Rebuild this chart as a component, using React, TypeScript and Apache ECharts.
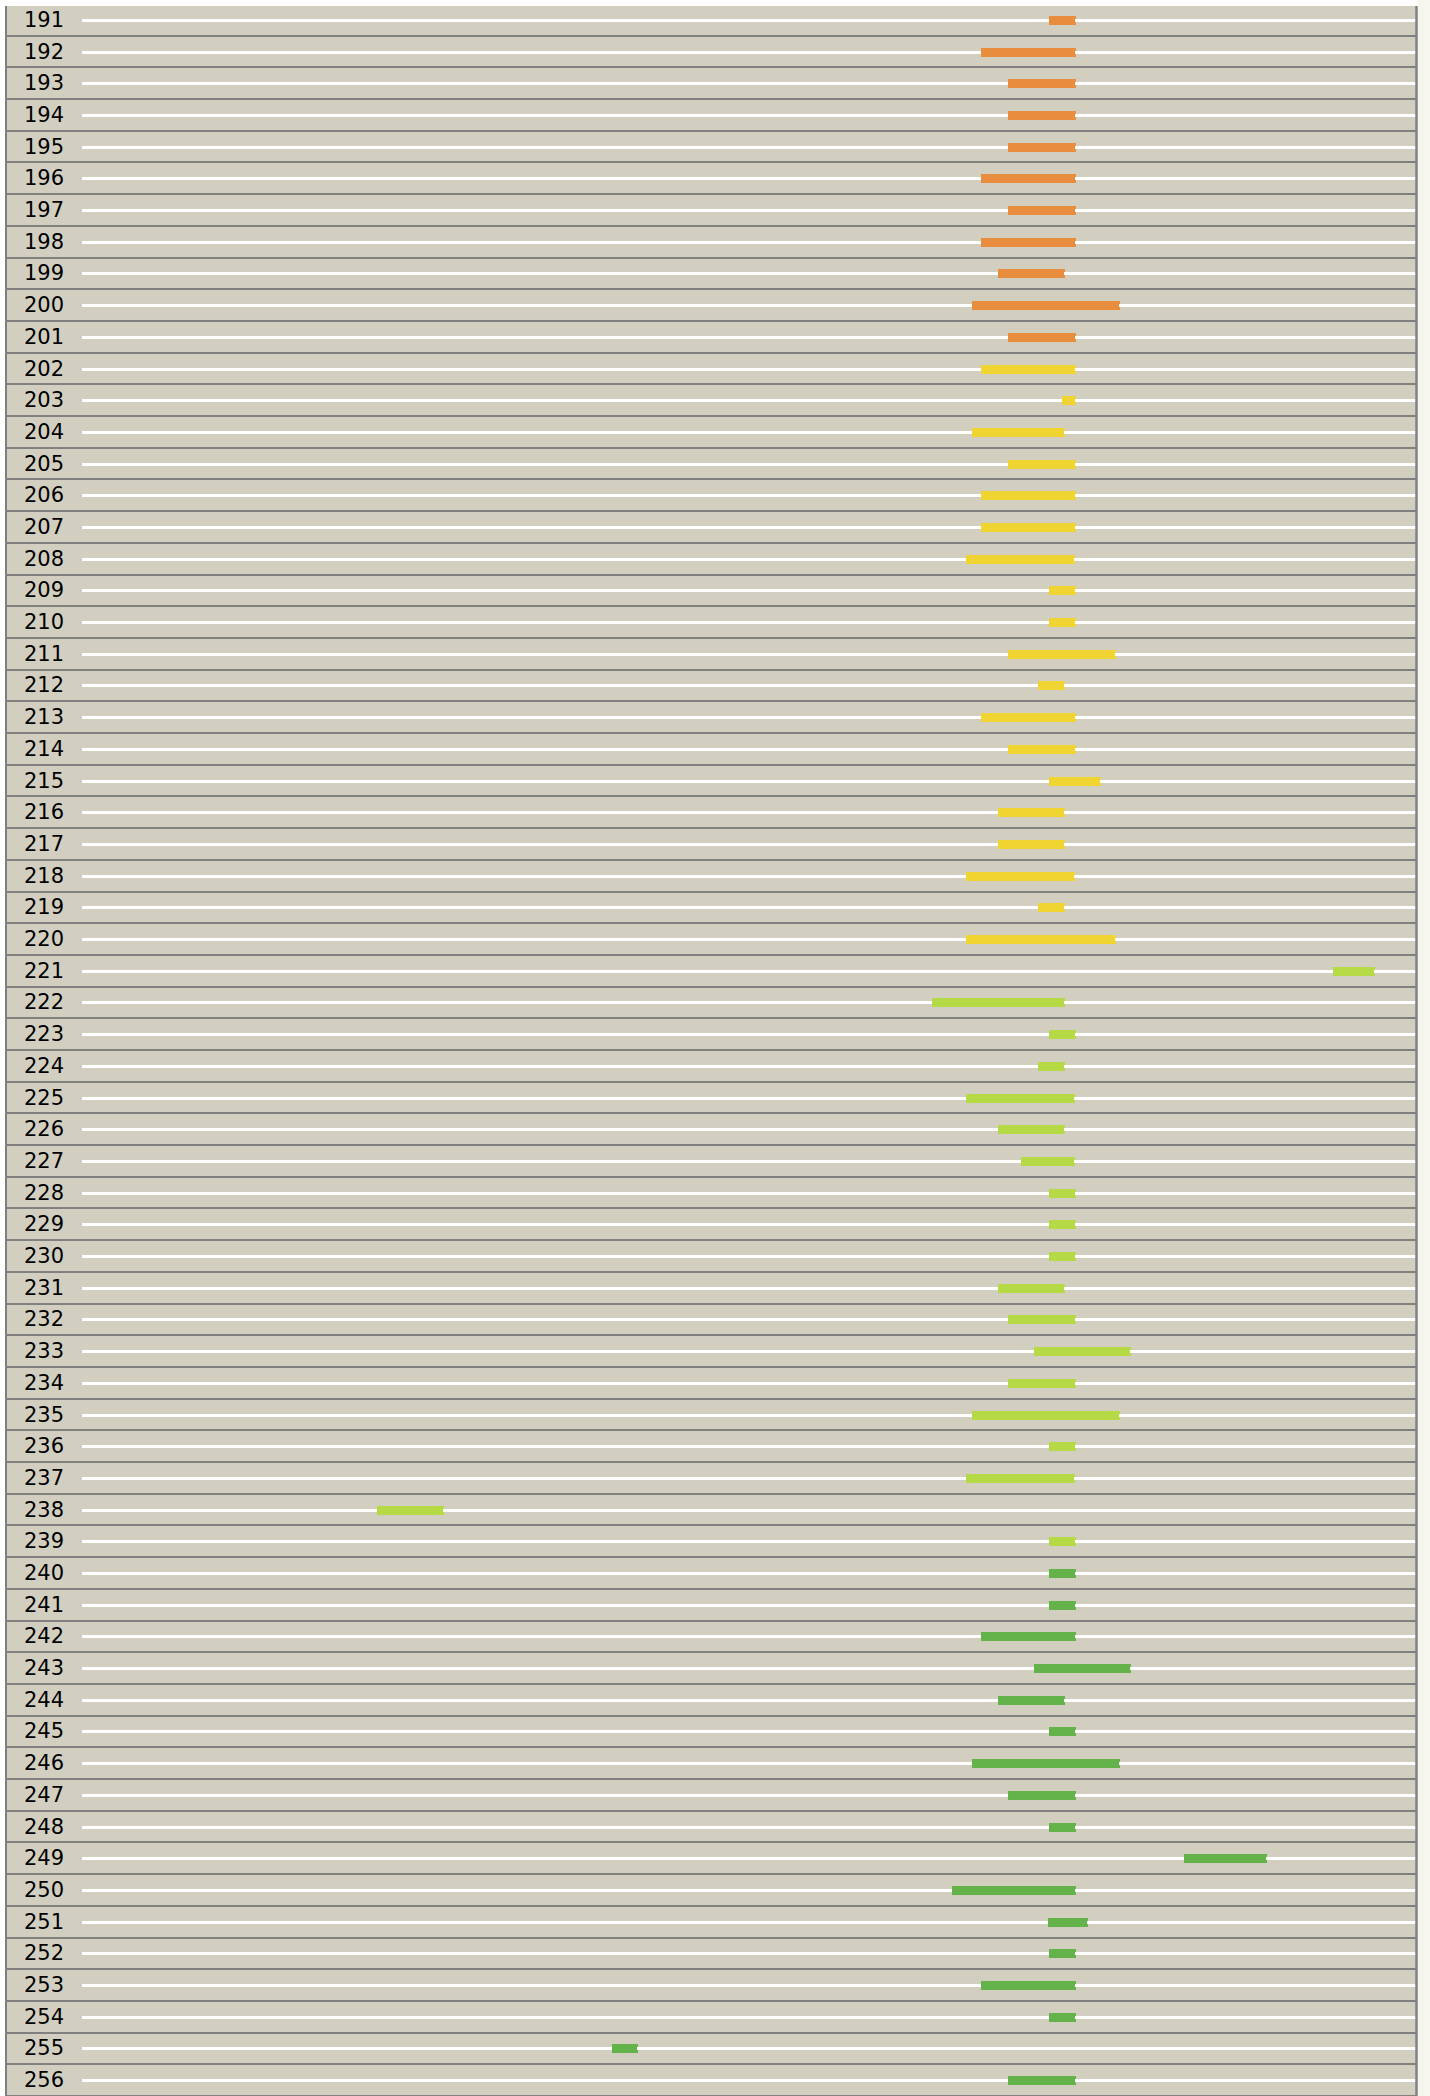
import React, { useEffect, useRef } from "react";
import * as echarts from "echarts";

const categories = [
  "191", "192", "193", "194", "195", "196", "197", "198", "199", "200", "201",
  "202", "203", "204", "205", "206", "207", "208", "209", "210", "211", "212", "213", "214", "215", "216", "217", "218", "219", "220",
  "221", "222", "223", "224", "225", "226", "227", "228", "229", "230", "231", "232", "233", "234", "235", "236", "237", "238", "239",
  "240", "241", "242", "243", "244", "245", "246", "247", "248", "249", "250", "251", "252", "253", "254", "255", "256",
];

const startValues = [
  725, 674, 694, 694, 694, 674, 694, 674, 687, 667, 694,
  674, 735, 667, 694, 674, 674, 663, 725, 725, 694, 717, 674, 694, 725, 687, 687, 663, 717, 663,
  938, 637, 725, 717, 663, 687, 704, 725, 725, 725, 687, 694, 714, 694, 667, 725, 663, 221, 725,
  725, 725, 674, 714, 687, 725, 667, 694, 725, 826, 652, 724, 725, 674, 725, 397, 694,
];

const endValues = [
  745, 745, 745, 745, 745, 745, 745, 745, 737, 778, 745,
  745, 745, 737, 745, 745, 745, 744, 745, 745, 775, 737, 745, 745, 764, 737, 737, 744, 737, 775,
  969, 737, 745, 737, 744, 737, 744, 745, 745, 745, 737, 745, 786, 745, 778, 745, 744, 271, 745,
  745, 745, 745, 786, 737, 745, 778, 745, 745, 888, 745, 754, 745, 745, 745, 417, 745,
];

const rowGroup = [
  0, 0, 0, 0, 0, 0, 0, 0, 0, 0, 0,
  1, 1, 1, 1, 1, 1, 1, 1, 1, 1, 1, 1, 1, 1, 1, 1, 1, 1, 1,
  2, 2, 2, 2, 2, 2, 2, 2, 2, 2, 2, 2, 2, 2, 2, 2, 2, 2, 2,
  3, 3, 3, 3, 3, 3, 3, 3, 3, 3, 3, 3, 3, 3, 3, 3, 3,
];

const groupColors = ["#e88d3d", "#f0d431", "#b5da46", "#63b34a"];
const lineStart = 0;
const xMin = -57;
const xMax = 1000;

export default function App() {
  const ref = useRef<HTMLDivElement>(null);

  useEffect(() => {
    document.body.style.margin = "0";
    if (!ref.current) return;
    const chart = echarts.init(ref.current, undefined, { renderer: "svg" });

    const rowsSeries: any = {
      type: "custom",
      z: 1,
      encode: { x: 0, y: 1 },
      data: categories.map((_, i) => [lineStart, i]),
      renderItem: (params: any, api: any) => {
        const cs = params.coordSys;
        const p = api.coord([api.value(0), api.value(1)]);
        const band = api.size([0, 1])[1];
        const right = cs.x + cs.width;
        const sepY = Math.round(p[1] + band / 2);
        const wy = Math.round(p[1]) + 0.5;
        return {
          type: "group",
          children: [
            {
              type: "line",
              shape: { x1: cs.x, y1: sepY, x2: right, y2: sepY },
              style: { stroke: "#808080", lineWidth: 2 },
            },
            {
              type: "line",
              shape: { x1: p[0], y1: wy, x2: right, y2: wy },
              style: { stroke: "#ffffff", lineWidth: 3 },
            },
          ],
        };
      },
    };

    const barSeries = groupColors.map((color, g) => ({
      type: "custom",
      z: 3,
      encode: { x: [0, 1], y: 2 },
      data: categories
        .map((_, i) => [startValues[i], endValues[i], i])
        .filter((_, i) => rowGroup[i] === g),
      renderItem: (params: any, api: any) => {
        const p0 = api.coord([api.value(0), api.value(2)]);
        const p1 = api.coord([api.value(1), api.value(2)]);
        const cy = Math.round(p0[1]) + 0.5;
        const x0 = Math.round(p0[0]);
        const x1 = Math.round(p1[0]);
        return {
          type: "group",
          children: [
            {
              type: "rect",
              shape: { x: x0, y: cy - 4.5, width: x1 - x0, height: 9 },
              style: { fill: color },
            },
            {
              type: "rect",
              shape: { x: x1 - 1, y: cy - 1.5, width: 1, height: 3 },
              style: { fill: "#ffffff" },
            },
          ],
        };
      },
    }));

    chart.setOption({
      animation: false,
      backgroundColor: "#ffffff",
      grid: { left: 6, right: 14, top: 4, bottom: 0, containLabel: false },
      xAxis: {
        type: "value",
        min: xMin,
        max: xMax,
        show: false,
      },
      yAxis: {
        type: "category",
        data: categories,
        inverse: true,
        axisLine: { show: false },
        axisTick: { show: false },
        splitLine: { show: false },
        axisLabel: {
          inside: true,
          margin: 18,
          align: "left",
          fontSize: 21,
          fontFamily: "DejaVu Sans",
          color: "#000000",
        },
        z: 5,
      },
      graphic: [
        {
          type: "rect",
          z: -10,
          silent: true,
          shape: { x: 6, y: 6, width: 1410, height: 2096 },
          style: { fill: "#d2cfc0" },
        },
        {
          type: "rect",
          z: -10,
          silent: true,
          shape: { x: 1418, y: 0, width: 12, height: 2096 },
          style: { fill: "#f6f5ee" },
        },
        {
          type: "line",
          z: 10,
          silent: true,
          shape: { x1: 6, y1: 6, x2: 6, y2: 2096 },
          style: { stroke: "#808080", lineWidth: 2 },
        },
        {
          type: "line",
          z: 10,
          silent: true,
          shape: { x1: 1416.5, y1: 6, x2: 1416.5, y2: 2096 },
          style: { stroke: "#808080", lineWidth: 2.5 },
        },
      ],
      series: [rowsSeries, ...barSeries],
    });

    return () => chart.dispose();
  }, []);

  return <div ref={ref} style={{ width: 1430, height: 2096 }} />;
}
